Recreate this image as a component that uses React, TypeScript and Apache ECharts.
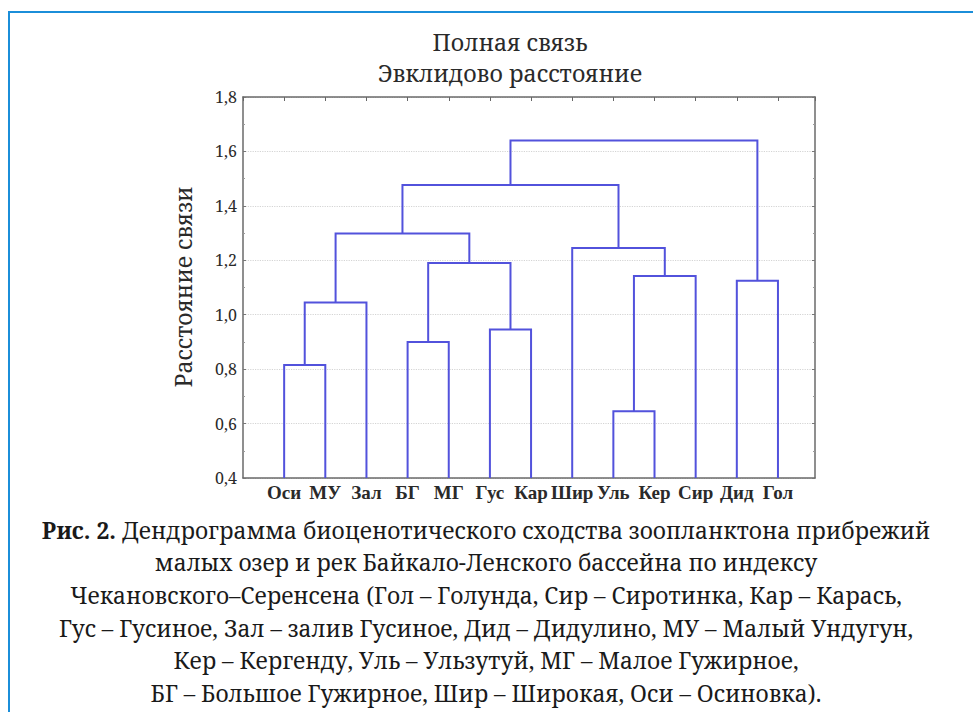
import React, { useEffect, useRef } from "react";
import * as echarts from "echarts";

const leaves = ["Оси", "МУ", "Зал", "БГ", "МГ", "Гус", "Кар", "Шир", "Уль", "Кер", "Сир", "Дид", "Гол"];
// merges: child indices (0..12 = leaves, 13+ = earlier merges), and linkage height
const mergeLeft = [8, 0, 3, 5, 14, 11, 13, 15, 7, 17, 22, 23];
const mergeRight = [9, 1, 4, 6, 2, 12, 10, 16, 19, 20, 21, 18];
const mergeHeight = [0.645, 0.815, 0.9, 0.946, 1.045, 1.125, 1.142, 1.19, 1.245, 1.298, 1.477, 1.64];
const yTicks = [0.4, 0.6, 0.8, 1.0, 1.2, 1.4, 1.6, 1.8];

const titleLines = ["Полная связь", "Эвклидово расстояние"];
const yAxisTitle = "Расстояние связи";
const captionBold = "Рис. 2.";
const captionLines = [
  " Дендрограмма биоценотического сходства зоопланктона прибрежий",
  "малых озер и рек Байкало-Ленского бассейна по индексу",
  "Чекановского–Серенсена (Гол – Голунда, Сир – Сиротинка, Кар – Карась,",
  "Гус – Гусиное, Зал – залив Гусиное, Дид – Дидулино, МУ – Малый Ундугун,",
  "Кер – Кергенду, Уль – Ульзутуй, МГ – Малое Гужирное,",
  "БГ – Большое Гужирное, Шир – Широкая, Оси – Осиновка).",
];

const LINK = "#5252dc";
const AXIS = "#6a6a6a";
const SERIF = "Liberation Serif";
const NSERIF = "Noto Serif";

function buildLinks() {
  const n = leaves.length;
  const xs: number[] = leaves.map((_, i) => i + 1);
  const hs: number[] = leaves.map(() => yTicks[0]);
  const links: { coords: number[][] }[] = [];
  for (let i = 0; i < mergeHeight.length; i++) {
    const a = mergeLeft[i];
    const b = mergeRight[i];
    const h = mergeHeight[i];
    links.push({
      coords: [
        [xs[a], hs[a]],
        [xs[a], h],
        [xs[b], h],
        [xs[b], hs[b]],
      ],
    });
    xs[n + i] = (xs[a] + xs[b]) / 2;
    hs[n + i] = h;
  }
  return links;
}

export default function App() {
  const ref = useRef<HTMLDivElement>(null);
  useEffect(() => {
    document.body.style.margin = "0";
    const chart = echarts.init(ref.current!, null, { renderer: "svg" });
    const fmt = (v: number) => v.toFixed(1).replace(".", ",");
    const yMin = yTicks[0];
    const yMax = yTicks[yTicks.length - 1];
    const xCommon = {
      type: "value" as const,
      min: 0,
      max: 13.9,
      interval: 1,
      splitLine: { show: false },
      axisLine: { show: true, onZero: false, lineStyle: { color: AXIS, width: 1.5 } },
    };
    const yCommon = {
      type: "value" as const,
      min: yMin,
      max: yMax,
      interval: 0.2,
      axisLine: { show: true, onZero: false, lineStyle: { color: AXIS, width: 1.5 } },
      axisTick: { show: true, inside: true, length: 3, lineStyle: { color: "#777" } },
      minorTick: { show: true, splitNumber: 2, length: 2, lineStyle: { color: "#999" } },
    };
    const captionGraphics = captionLines.map((line, i) => ({
      type: "text",
      x: 486,
      y: 530 + i * 32.7,
      style: {
        text: i === 0 ? `{b|${captionBold}}${line}` : line,
        rich: i === 0 ? { b: { fontWeight: "bold", fontFamily: NSERIF, fontSize: 22.8, fill: "#1a1a1a" } } : undefined,
        fontFamily: NSERIF,
        fontSize: 22.8,
        fill: "#1a1a1a",
        align: "center",
        verticalAlign: "middle",
      },
    }));
    chart.setOption({
      animation: false,
      backgroundColor: "#ffffff",
      grid: { left: 243, top: 97, width: 572, height: 381 },
      xAxis: [
        {
          ...xCommon,
          position: "bottom",
          axisTick: { show: false },
          axisLabel: {
            show: true,
            margin: 5,
            fontFamily: SERIF,
            fontSize: 19,
            fontWeight: "bold",
            color: "#2a2a2a",
            formatter: (v: number) => (Number.isInteger(v) ? leaves[v - 1] ?? "" : ""),
          },
        },
        {
          ...xCommon,
          position: "top",
          axisTick: { show: true, inside: true, length: 4, lineStyle: { color: "#666" } },
          axisLabel: { show: false },
        },
      ],
      yAxis: [
        {
          ...yCommon,
          position: "left",
          axisLabel: { show: true, margin: 6, fontFamily: NSERIF, fontSize: 16, color: "#2a2a2a", formatter: fmt },
          splitLine: { show: true, lineStyle: { color: "#d4d4d4", type: "dotted", width: 1.2 } },
        },
        {
          ...yCommon,
          position: "right",
          axisLabel: { show: false },
          splitLine: { show: false },
        },
      ],
      series: [
        {
          type: "lines",
          coordinateSystem: "cartesian2d",
          polyline: true,
          silent: true,
          lineStyle: { color: LINK, width: 2, opacity: 1 },
          data: buildLinks(),
        },
      ],
      graphic: [
        { type: "line", shape: { x1: 8, y1: 12, x2: 973, y2: 12 }, style: { stroke: "#1b8ed9", lineWidth: 2 } },
        { type: "line", shape: { x1: 9, y1: 12, x2: 9, y2: 712 }, style: { stroke: "#1b8ed9", lineWidth: 2 } },
        ...titleLines.map((t, i) => ({
          type: "text",
          x: 510,
          y: 42 + i * 31,
          style: { text: t, fontFamily: NSERIF, fontSize: 23.2, fill: "#2a2a2a", align: "center", verticalAlign: "middle" },
        })),
        {
          type: "text",
          x: 183,
          y: 287,
          rotation: Math.PI / 2,
          style: { text: yAxisTitle, fontFamily: NSERIF, fontSize: 23, fill: "#2a2a2a", align: "center", verticalAlign: "middle" },
        },
        ...captionGraphics,
      ],
    });
    return () => chart.dispose();
  }, []);
  return <div ref={ref} style={{ width: 973, height: 712 }} />;
}
